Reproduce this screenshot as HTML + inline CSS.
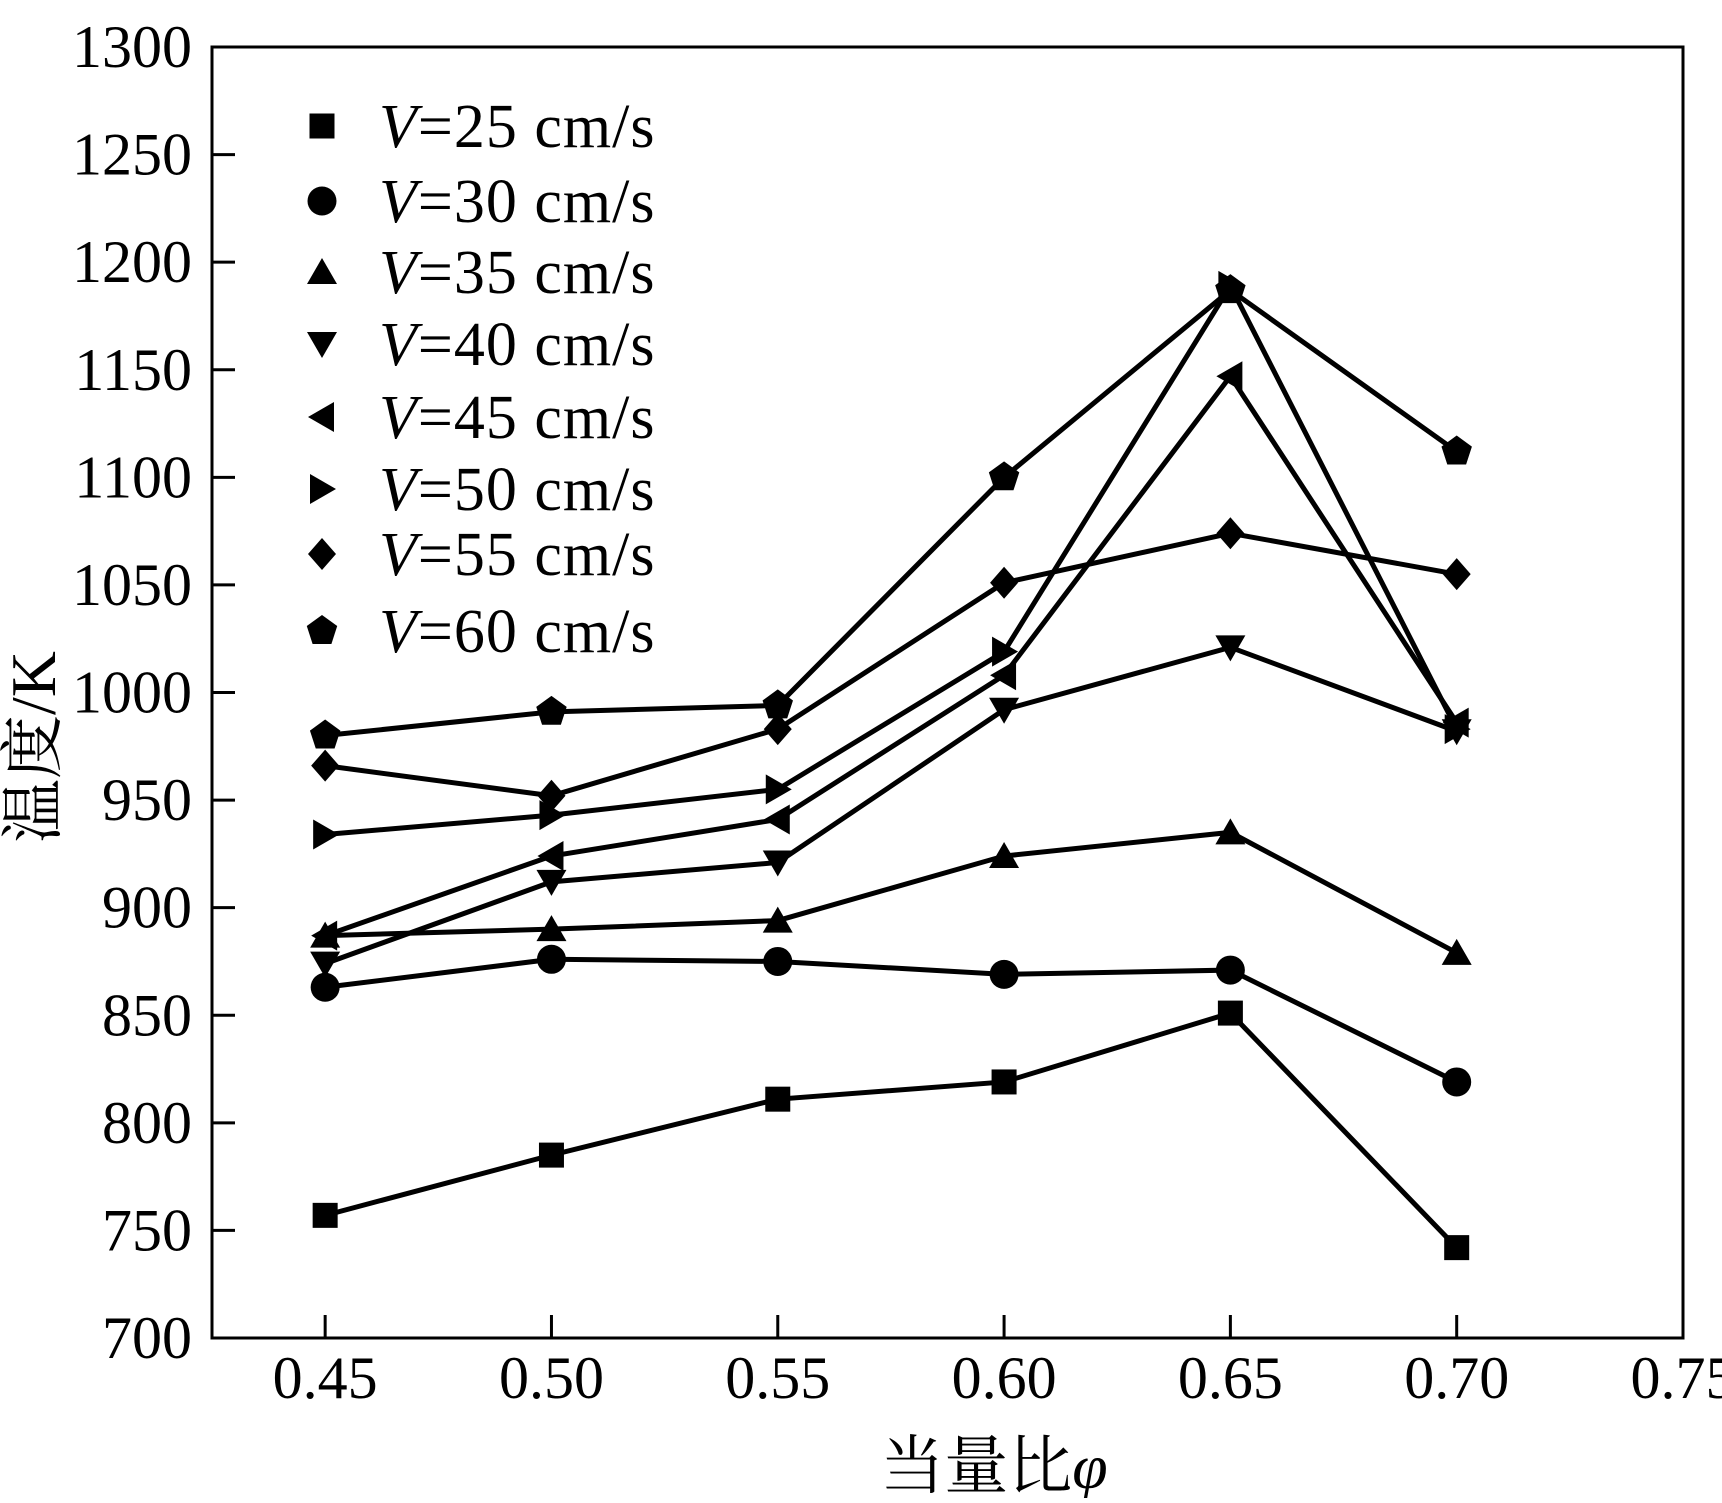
<!DOCTYPE html>
<html><head><meta charset="utf-8"><style>
html,body{margin:0;padding:0;background:#fff}
svg text{font-family:"Liberation Serif","Noto Serif CJK SC",serif;fill:#000}
</style></head><body>
<svg id="chart" width="1722" height="1498" viewBox="0 0 1722 1498" xmlns="http://www.w3.org/2000/svg">
<rect x="212" y="47" width="1471" height="1291" fill="none" stroke="#000" stroke-width="3"/>
<g id="marks"></g>
<g id="axes"></g>
<g id="legend"></g>
<text x="0" y="0" font-size="64" text-anchor="middle" transform="translate(55,747) rotate(-90)">温度/K</text>
<text x="994" y="1488" font-size="64" text-anchor="middle">当量比<tspan font-style="italic">φ</tspan></text>
</svg>
<script>
const categories=[0.45,0.50,0.55,0.60,0.65,0.70];
const xTicks=[0.45,0.50,0.55,0.60,0.65,0.70,0.75];
const xTickLabels=["0.45","0.50","0.55","0.60","0.65","0.70","0.75"];
const yTicks=[700,750,800,850,900,950,1000,1050,1100,1150,1200,1250,1300];
const seriesNames=["25","30","35","40","45","50","55","60"];
const v25=[757,785,811,819,851,742];
const v30=[863,876,875,869,871,819];
const v35=[887,890,894,924,935,879];
const v40=[874,912,921,992,1021,982];
const v45=[887,924,941,1008,1147,986];
const v50=[934,943,955,1019,1189,983];
const v55=[966,952,983,1051,1074,1055];
const v60=[980,991,994,1100,1187,1112];
const series=[v25,v30,v35,v40,v45,v50,v55,v60];
const markers=["square","circle","up","down","left","right","diamond","pentagon"];
const NS="http://www.w3.org/2000/svg";
const X0=212,X1=1683,Y0=1338,Y1=47,XMIN=0.425,XMAX=0.75,YMIN=700,YMAX=1300;
function sx(v){return X0+(v-XMIN)/(XMAX-XMIN)*(X1-X0);}
function sy(v){return Y0-(v-YMIN)/(YMAX-YMIN)*(Y0-Y1);}
function mk(tag,attrs,parent){const e=document.createElementNS(NS,tag);for(const k in attrs)e.setAttribute(k,attrs[k]);parent.appendChild(e);return e;}
function marker(type,x,y,parent){
  const s=12.5;let e;
  if(type==="square")e=mk("rect",{x:x-s,y:y-s,width:2*s,height:2*s},parent);
  else if(type==="circle")e=mk("circle",{cx:x,cy:y,r:14.5},parent);
  else{let p;
    if(type==="up")p=[[x,y-14],[x+15,y+12],[x-15,y+12]];
    else if(type==="down")p=[[x,y+14],[x+15,y-12],[x-15,y-12]];
    else if(type==="left")p=[[x-14,y],[x+12,y-15],[x+12,y+15]];
    else if(type==="right")p=[[x+14,y],[x-12,y-15],[x-12,y+15]];
    else if(type==="diamond")p=[[x,y-16],[x+14,y],[x,y+16],[x-14,y]];
    else{p=[];for(let i=0;i<5;i++){const a=-Math.PI/2+i*2*Math.PI/5;p.push([x+16*Math.cos(a),y+16*Math.sin(a)]);}}
    e=mk("polygon",{points:p.map(q=>q.join(",")).join(" ")},parent);}
  e.setAttribute("fill","#000");
  return e;
}
const axes=document.getElementById("axes");
xTicks.forEach((t,i)=>{
  const x=sx(t);
  const l=mk("line",{x1:x,y1:Y0,x2:x,y2:Y0-23,stroke:"#000","stroke-width":3},axes);
  
  
  const tx=mk("text",{x:x,y:1398,"font-size":60,"text-anchor":"middle"},axes);
  tx.textContent=xTickLabels[i];
  
  
});
yTicks.forEach(t=>{
  const y=sy(t);
  const l=mk("line",{x1:X0,y1:y,x2:X0+23,y2:y,stroke:"#000","stroke-width":3},axes);
  
  
  const tx=mk("text",{x:192,y:y+20,"font-size":60,"text-anchor":"end"},axes);
  tx.textContent=String(t);
  
  
});
const marks=document.getElementById("marks");
series.forEach((vals,si)=>{
  const g=mk("g",{},marks);
  
  
  const pl=mk("polyline",{points:vals.map((v,i)=>sx(categories[i])+","+sy(v)).join(" "),fill:"none",stroke:"#000","stroke-width":5},g);
  
  
  vals.forEach((v,i)=>{
    const m=marker(markers[si],sx(categories[i]),sy(v),g);
    
    
  });
});
const legend=document.getElementById("legend");
const ly=[126,201,272,344,417,489,554,631];
seriesNames.forEach((n,i)=>{
  const g=mk("g",{},legend);
  
  
  marker(markers[i],322,ly[i],g);
  const t=mk("text",{x:379,y:ly[i]+21,"font-size":62,"letter-spacing":"1"},g);
  t.innerHTML='<tspan font-style="italic">V</tspan>=<tspan>'+n+'</tspan> cm/s';
});
</script>
</body></html>
